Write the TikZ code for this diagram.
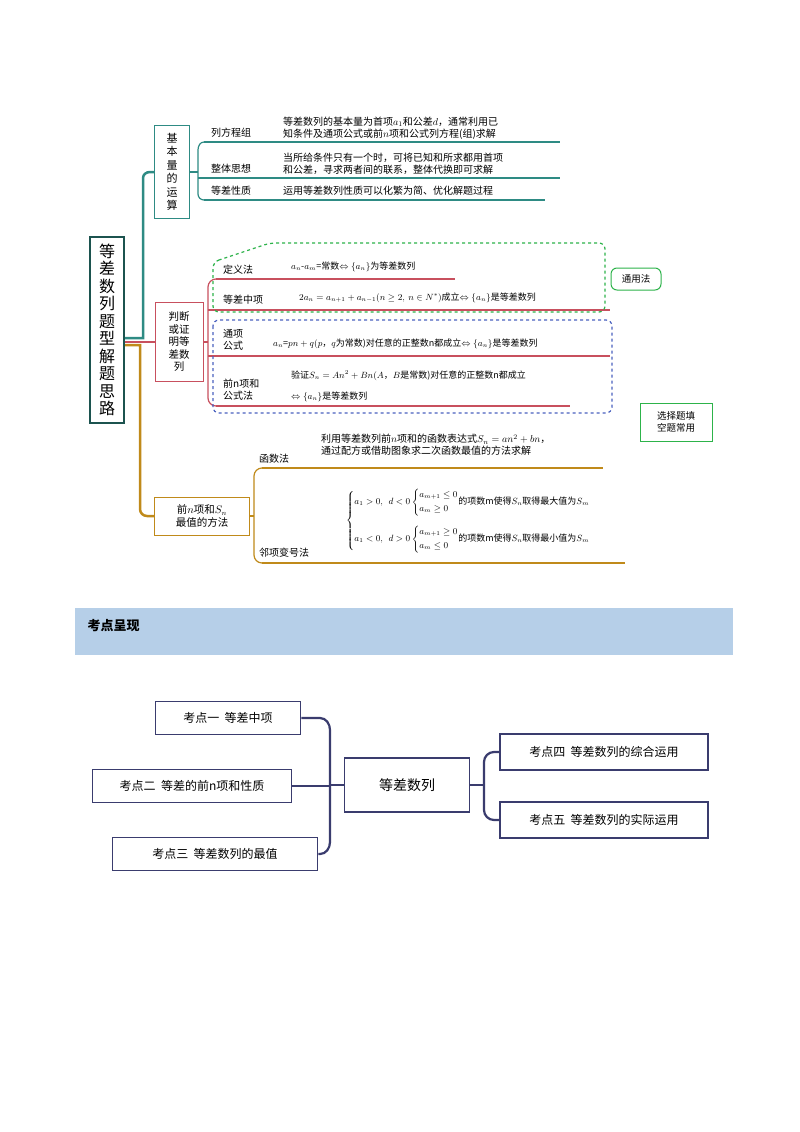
\documentclass[tikz,border=0pt]{standalone}
\usepackage{amsmath}
\usepackage{fontspec}
\setmainfont{Noto Sans CJK SC}
\usetikzlibrary{calc}
\definecolor{teal1}{HTML}{2E8B84}
\definecolor{red1}{HTML}{C8505E}
\definecolor{gold1}{HTML}{C08A1A}
\definecolor{navy}{HTML}{3A3C6E}
\definecolor{grn}{HTML}{2DB34A}
\definecolor{blu}{HTML}{4A62C0}
\definecolor{banner}{HTML}{B6CFE8}
\tikzset{
 lbl/.style={font=\fontsize{10}{12}\selectfont,anchor=west,inner sep=1pt},
 txt/.style={font=\fontsize{10}{12}\selectfont,anchor=west,align=left,inner sep=1pt},
 fml/.style={font=\fontsize{9}{11}\selectfont,anchor=west,align=left,inner sep=1pt},
 vbox/.style={draw,line width=1pt,align=center,inner sep=2pt},
 kbox/.style={draw=navy,line width=1.6pt,font=\fontsize{12}{14}\selectfont,inner sep=0pt},
 kline/.style={draw=navy,line width=2.2pt}
}
\begin{document}
\begin{tikzpicture}[x=1pt,y=-1pt]
\useasboundingbox (0,0) rectangle (800,1132);
\fill[white] (0,0) rectangle (800,1132);
% main box
\node[draw=teal1!60!black,line width=2pt,minimum width=34pt,minimum height=186pt,font=\fontsize{16}{17.5}\selectfont,align=center,inner sep=0pt] (main) at (107,330) {等\\差\\数\\列\\题\\型\\解\\题\\思\\路};
% level-1 boxes
\node[vbox,draw=teal1,minimum width=35pt,minimum height=93pt,font=\fontsize{11}{13.5}\selectfont] (b1) at (172,172) {基\\本\\量\\的\\运\\算};
\node[vbox,draw=red1,minimum width=48pt,minimum height=79pt,font=\fontsize{10.5}{12.5}\selectfont] (b2) at (179,342) {判断\\或证\\明等\\差数\\列};
\node[vbox,draw=gold1,minimum width=95pt,minimum height=38pt,font=\fontsize{10.5}{13}\selectfont] (b3) at (202,516) {前$n$项和$S_n$\\最值的方法};
% trunk
\draw[teal1,line width=2.5pt] (main.east|-0,338) -- (143,338) -- (143,178) to[out=90,in=180] (150,172) -- (b1.west);
\draw[red1,line width=2.5pt] (main.east|-0,342) -- (b2.west);
\draw[gold1,line width=2.5pt] (main.east|-0,345) -- (140,345) -- (140,509) to[out=-90,in=180] (147,516) -- (b3.west);
% branch 1
\draw[teal1,line width=1.5pt] (b1.east) -- (198,172);
\draw[teal1,line width=1.2pt] (204,142) to[out=180,in=90] (198,150) -- (198,194) to[out=-90,in=180] (204,200);
\draw[teal1,line width=1.2pt] (204,142) -- (560,142);
\draw[teal1,line width=1.2pt] (198,178) -- (560,178);
\draw[teal1,line width=1.2pt] (204,200) -- (545,200);
\node[lbl] (l11) at (210,133) {列方程组};
\node[lbl] (l12) at (210,169) {整体思想};
\node[lbl] (l13) at (210,191) {等差性质};
\node[txt] (t11) at (282,128) {等差数列的基本量为首项$a_1$和公差$d$，通常利用已\\知条件及通项公式或前$n$项和公式列方程(组)求解};
\node[txt] (t12) at (282,164) {当所给条件只有一个时，可将已知和所求都用首项\\和公差，寻求两者间的联系，整体代换即可求解};
\node[txt] (t13) at (282,191) {运用等差数列性质可以化繁为简、优化解题过程};
% branch 2
\draw[red1,line width=1.5pt] (b2.east) -- (208,342);
\draw[red1,line width=1.2pt] (216,279) to[out=180,in=90] (208,287) -- (208,398) to[out=-90,in=180] (216,406);
\draw[red1,line width=1.2pt] (216,279) -- (455,279);
\draw[red1,line width=1.2pt] (208,310) -- (610,310);
\draw[red1,line width=1.2pt] (208,356) -- (610,356);
\draw[red1,line width=1.2pt] (216,406) -- (570,406);
\node[lbl] (l21) at (222,270) {定义法};
\node[lbl] (l22) at (222,300) {等差中项};
\node[lbl,align=left] (l23) at (222,340) {通项\\公式};
\node[lbl,align=left] (l24) at (222,390) {前n项和\\公式法};
\node[fml] (t21) at (290,267) {$a_n\text{-}a_m$=常数$\Leftrightarrow\{a_n\}$为等差数列};
\node[fml] (t22) at (298,298) {$2a_n=a_{n+1}+a_{n-1}(n\ge 2,\ n\in N^*)$成立$\Leftrightarrow\{a_n\}$是等差数列};
\node[fml] (t23) at (272,344) {$a_n$=$pn+q(p$，$q$为常数)对任意的正整数n都成立$\Leftrightarrow\{a_n\}$是等差数列};
\node[fml] (t24) at (290,376) {验证$S_n=An^2+Bn(A$，$B$是常数)对任意的正整数n都成立};
\node[fml] (t25) at (290,397) {$\Leftrightarrow\{a_n\}$是等差数列};
\draw[grn,line width=1.2pt,dashed,rounded corners=6pt] (213,262) -- (270,243) -- (605,243) -- (605,312) -- (213,312) -- cycle;
\draw[blu,line width=1.2pt,dashed,rounded corners=6pt] (213,320) rectangle (612,413);
\node[draw=grn,line width=1pt,rounded corners=6pt,font=\fontsize{9.5}{11}\selectfont,minimum width=50pt,minimum height=22pt] (ty) at (636,279) {通用法};
\node[draw=grn,line width=1pt,font=\fontsize{9.5}{12}\selectfont,align=center,minimum width=72pt,minimum height=38pt] (xz) at (676,422) {选择题填\\空题常用};
% branch 3
\draw[gold1,line width=1.2pt] (b3.east) -- (254,516);
\draw[gold1,line width=1.2pt] (262,468) to[out=180,in=90] (254,476) -- (254,555) to[out=-90,in=180] (262,563);
\draw[gold1,line width=1.2pt] (262,468) -- (603,468);
\draw[gold1,line width=1.2pt] (262,563) -- (625,563);
\node[lbl] (l31) at (258,459) {函数法};
\node[lbl] (l32) at (258,553) {邻项变号法};
\node[txt] (t31) at (320,445) {利用等差数列前$n$项和的函数表达式$S_n=an^2+bn$，\\通过配方或借助图象求二次函数最值的方法求解};
\node[fml] (t32) at (345,521) {$\left\{\begin{array}{@{}l@{}}
a_1>0,\ \ d<0\left\{\begin{array}{@{}l@{}}a_{m+1}\le 0\\[3pt] a_m\ge 0\end{array}\right.\hspace{-2pt}\text{的项数m使得}S_n\text{取得最大值为}S_m\\[18pt]
a_1<0,\ \ d>0\left\{\begin{array}{@{}l@{}}a_{m+1}\ge 0\\[3pt] a_m\le 0\end{array}\right.\hspace{-2pt}\text{的项数m使得}S_n\text{取得最小值为}S_m
\end{array}\right.$};
% banner
\fill[banner] (75,608) rectangle (733,655);
\node[font=\fontsize{13}{15}\selectfont\bfseries,anchor=west] (ban) at (84,626) {考点呈现};
% mind map
\node[kbox,minimum width=125pt,minimum height=54pt,font=\fontsize{14}{16}\selectfont] (c) at (407,785) {等差数列};
\node[kbox,minimum width=145pt,minimum height=33pt] (k1) at (228,718) {考点一\ \ 等差中项};
\node[kbox,minimum width=199pt,minimum height=33pt] (k2) at (192,786) {考点二\ \ 等差的前n项和性质};
\node[kbox,minimum width=205pt,minimum height=33pt] (k3) at (215,854) {考点三\ \ 等差数列的最值};
\node[kbox,minimum width=208pt,minimum height=36pt] (k4) at (604,752) {考点四\ \ 等差数列的综合运用};
\node[kbox,minimum width=208pt,minimum height=36pt] (k5) at (604,820) {考点五\ \ 等差数列的实际运用};
\draw[kline] (c.west) -- (330,785);
\draw[kline] (k1.east) -- (320,718) to[out=0,in=90] (330,730) -- (330,842) to[out=-90,in=0] (320,854) -- (k3.east);
\draw[kline] (k2.east) -- (330,786);
\draw[kline] (c.east) -- (484,785);
\draw[kline] (k4.west) -- (494,752) to[out=180,in=90] (484,762) -- (484,810) to[out=-90,in=180] (494,820) -- (k5.west);
\end{tikzpicture}
\end{document}
